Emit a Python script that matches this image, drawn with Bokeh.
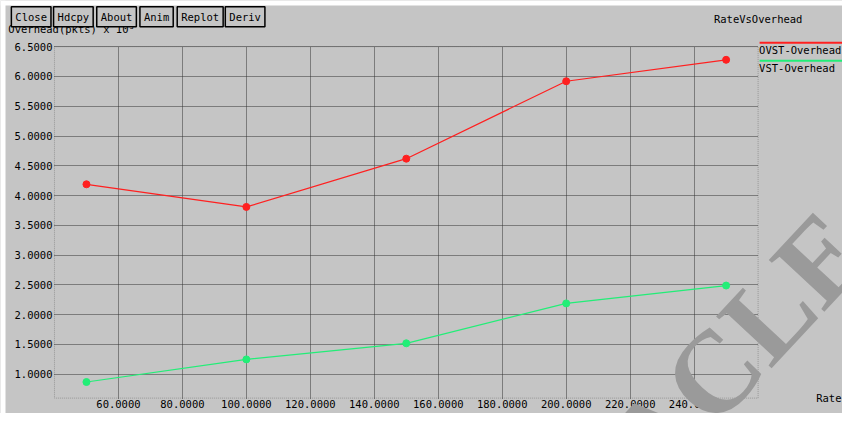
from bokeh.plotting import figure
from bokeh.models import (Range1d, FixedTicker, PrintfTickFormatter, Label, Arrow,
                          BoxAnnotation)
from bokeh.embed import file_html
from bokeh.resources import INLINE
import math

# ---- data ----
rate = [50, 100, 150, 200, 250]
ovst_overhead = [4.19, 3.81, 4.62, 5.92, 6.28]
vst_overhead = [0.87, 1.25, 1.52, 2.19, 2.49]
series_names = ["OVST-Overhead", "VST-Overhead"]
x_ticks = [60, 80, 100, 120, 140, 160, 180, 200, 220, 240]
y_ticks = [1.0, 1.5, 2.0, 2.5, 3.0, 3.5, 4.0, 4.5, 5.0, 5.5, 6.0, 6.5]
buttons = ["Close", "Hdcpy", "About", "Anim", "Replot", "Deriv"]
chart_title = "RateVsOverhead"
y_title = "Overhead(pkts) x 10\u00b3"
x_title = "Rate"
watermark = ("A", "CLE")

# ---- style / layout ----
BG = "#c5c5c5"
RED = "#ff2020"
GREEN = "#22ee77"
GRID = "#333333"
FONT = "DejaVu Sans Mono"
FS = "10.5px"

X0, X1 = 40, 260          # plot-area data limits
Y0, Y1 = 0.6, 6.5
W, H = 842, 413
SX, SY = W / 858, H / 429  # reference pixel -> figure pixel
# plot-area edges in figure pixels
PL, PR, PT, PB = 55 * SX, 772 * SX, 48 * SY, 413 * SY
kx = (X1 - X0) / (PR - PL)
ky = (Y1 - Y0) / (PB - PT)
XS = X0 - PL * kx
XE = XS + W * kx
YE = Y1 + PT * ky
YS = YE - H * ky


def fx(px):  # figure pixel -> data x
    return XS + px * kx


def fy(py):  # figure pixel -> data y
    return YE - py * ky


def rx(px):  # reference pixel -> data x
    return fx(px * SX)


def ry(py):
    return fy(py * SY)


p = figure(width=W, height=H, x_range=Range1d(XS, XE), y_range=Range1d(YS, YE),
           output_backend="svg", toolbar_location=None,
           min_border_left=0, min_border_right=0, min_border_top=0,
           min_border_bottom=0,
           background_fill_color=BG, border_fill_color=BG)
p.outline_line_color = None

# white strips along top and left edge
p.add_layout(BoxAnnotation(left=XS, right=XE, bottom=fy(5), top=YE,
                           fill_color="white", fill_alpha=1, line_color=None,
                           level="underlay"))
p.add_layout(BoxAnnotation(left=XS, right=fx(5), bottom=YS, top=YE,
                           fill_color="white", fill_alpha=1, line_color=None,
                           level="underlay"))

for ax, ticks, loc in ((p.xaxis[0], x_ticks, Y0), (p.yaxis[0], y_ticks, X0)):
    ax.fixed_location = loc
    ax.ticker = FixedTicker(ticks=ticks)
    ax.formatter = PrintfTickFormatter(format="%.4f")
    ax.axis_line_color = None
    ax.major_tick_line_color = None
    ax.minor_tick_line_color = None
    ax.major_tick_out = 0
    ax.major_tick_in = 0
    ax.major_label_text_font = FONT
    ax.major_label_text_font_size = FS
    ax.major_label_text_color = "black"
p.xaxis[0].major_label_standoff = 2
p.yaxis[0].major_label_standoff = 2

p.xgrid.ticker = FixedTicker(ticks=x_ticks)
p.ygrid.ticker = FixedTicker(ticks=y_ticks)
p.xgrid[0].cross_bounds = (Y0, Y1)
p.ygrid[0].cross_bounds = (X0, X1)
for g in (p.xgrid[0], p.ygrid[0]):
    g.grid_line_color = GRID
    g.grid_line_dash = "1 1"
    g.grid_line_width = 1

# plot-area border
p.add_layout(BoxAnnotation(left=X0, right=X1, bottom=Y0, top=Y1, fill_color=None,
                           line_color=GRID, line_dash="1 1", line_width=1,
                           level="underlay"))

p.line(rate, ovst_overhead, line_color=RED, line_width=1.2)
p.scatter(rate, ovst_overhead, size=7, color=RED)
p.line(rate, vst_overhead, line_color=GREEN, line_width=1.2)
p.scatter(rate, vst_overhead, size=7, color=GREEN)


def lab(text, x, y, align="left", baseline="middle", **kw):
    p.add_layout(Label(x=x, y=y, text=text, text_align=align,
                       text_baseline=baseline, text_font=FONT, text_font_size=FS,
                       text_color="black", **kw))


# y title (partly under the buttons)
lab(y_title, rx(8), ry(29.5))
# title
lab(chart_title, rx(727), ry(19.5))
# x title
lab(x_title, fx(W - 1), ry(412.5), align="right")

# legend
for i, (name, col) in enumerate(zip(series_names, [RED, GREEN])):
    ly = 44 + 18.5 * i
    p.add_layout(Arrow(x_start=fx(PR + 1.5), y_start=ry(ly), x_end=fx(W + 2), y_end=ry(ly),
                       end=None, line_color=col, line_width=2))
    lab(name, fx(PR + 1), ry(ly + 7.5))

# buttons
btn_left = [7, 50, 94, 138, 176, 225]
for name, bx in zip(buttons, btn_left):
    lab(name, fx(bx * SX + 4), ry(17), border_line_color="black", border_line_width=1.5,
        background_fill_color=BG, padding=4)

# watermark
for txt, al in zip(watermark, ("right", "left")):
    p.add_layout(Label(x=fx(684), y=fy(404), text=txt, text_align=al,
                       text_baseline="alphabetic", angle=math.radians(47),
                       text_font="Liberation Serif", text_font_size="116px",
                       text_font_style="bold", text_color="#9a9a9a", level="overlay"))

open("out.html", "w").write(file_html(p, INLINE))
